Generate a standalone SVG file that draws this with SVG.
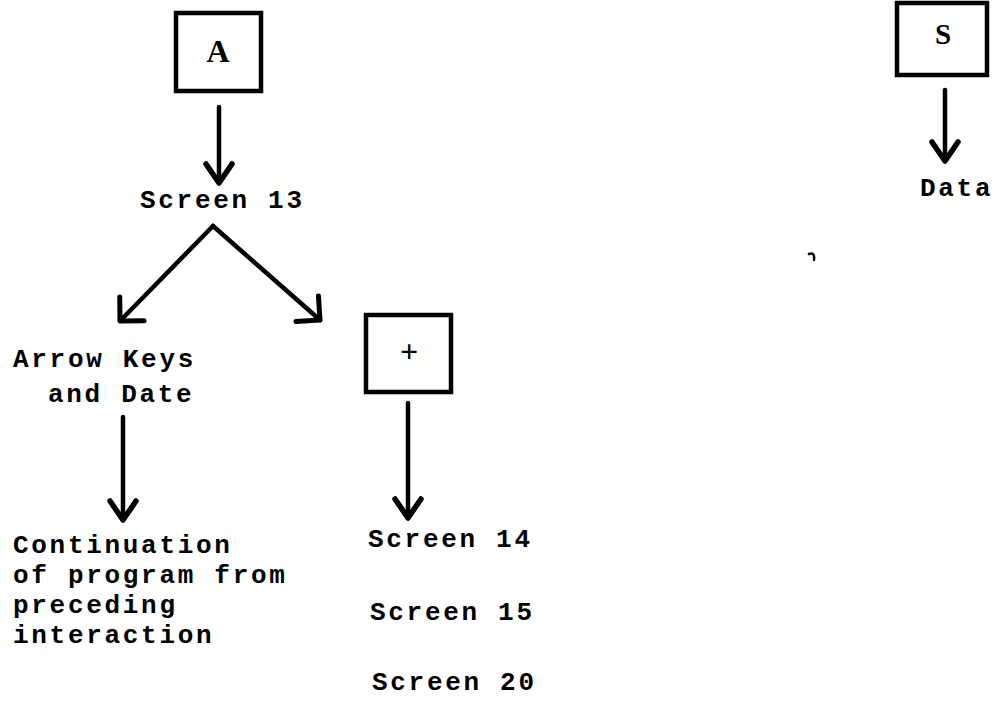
<svg xmlns="http://www.w3.org/2000/svg" width="996" height="704" viewBox="0 0 996 704">
<style>
.t{font-family:"Liberation Mono","DejaVu Sans Mono",monospace;font-size:26px;letter-spacing:2.7px;font-weight:bold;fill:#000}
.lbl{font-family:"Liberation Serif","DejaVu Serif",serif;font-weight:bold;fill:#000;text-anchor:middle}
.box{fill:#fff;stroke:#000;stroke-width:4.5}
.c{stroke:#000;stroke-width:4.5;stroke-linecap:round;fill:none}
</style>
<defs>
<marker id="av" markerUnits="userSpaceOnUse" viewBox="-24 -18 30 36" markerWidth="30" markerHeight="36" refX="0" refY="0" orient="auto" overflow="visible">
<path d="M -19 -13 L 0 0 L -19 13" fill="none" stroke="#000" stroke-width="5.5" stroke-linecap="round" stroke-linejoin="round"/>
</marker>
<marker id="ad" markerUnits="userSpaceOnUse" viewBox="-24 -24 30 48" markerWidth="30" markerHeight="48" refX="0" refY="0" orient="auto" overflow="visible">
<path d="M -17 -17 L 0 0 L -17 17" fill="none" stroke="#000" stroke-width="5" stroke-linecap="round" stroke-linejoin="round"/>
</marker>
</defs>
<rect width="996" height="704" fill="#fff"/>
<g id="nodeA">
<rect class="box" x="176" y="13" width="85" height="78"/>
<text class="lbl" x="218" y="62" font-size="32">A</text>
</g>
<g id="nodeScreen13"><text class="t" x="140" y="208">Screen 13</text></g>
<g id="nodeArrowKeys">
<text class="t" x="13" y="367">Arrow Keys</text>
<text class="t" x="48" y="402">and Date</text>
</g>
<g id="nodePlus">
<rect class="box" x="366" y="315" width="85" height="77"/>
<text class="lbl" x="409" y="362" font-size="32">+</text>
</g>
<g id="nodeContinuation">
<text class="t" x="13" y="553">Continuation</text>
<text class="t" x="13" y="583">of program from</text>
<text class="t" x="13" y="613">preceding</text>
<text class="t" x="13" y="643">interaction</text>
</g>
<g id="nodeScreens">
<text class="t" x="368" y="547">Screen 14</text>
<text class="t" x="370" y="620">Screen 15</text>
<text class="t" x="372" y="690">Screen 20</text>
</g>
<g id="nodeS">
<rect class="box" x="897" y="3" width="90" height="72"/>
<text class="lbl" x="943" y="44" font-size="29">S</text>
</g>
<g id="nodeData"><text class="t" x="920" y="196">Data</text></g>
<g id="connectors">
<line class="c" x1="219" y1="107" x2="219" y2="183" marker-end="url(#av)"/>
<line class="c" x1="213" y1="226" x2="120" y2="321" marker-end="url(#ad)"/>
<line class="c" x1="213" y1="226" x2="320" y2="320" marker-end="url(#ad)"/>
<line class="c" x1="123" y1="417" x2="123" y2="520" marker-end="url(#av)"/>
<line class="c" x1="408" y1="403" x2="408" y2="518" marker-end="url(#av)"/>
<line class="c" x1="945" y1="90" x2="945" y2="161" marker-end="url(#av)"/>
</g>
<path d="M 809 254 q 6 -2 5 6" fill="none" stroke="#000" stroke-width="2.5" stroke-linecap="round"/>
</svg>
